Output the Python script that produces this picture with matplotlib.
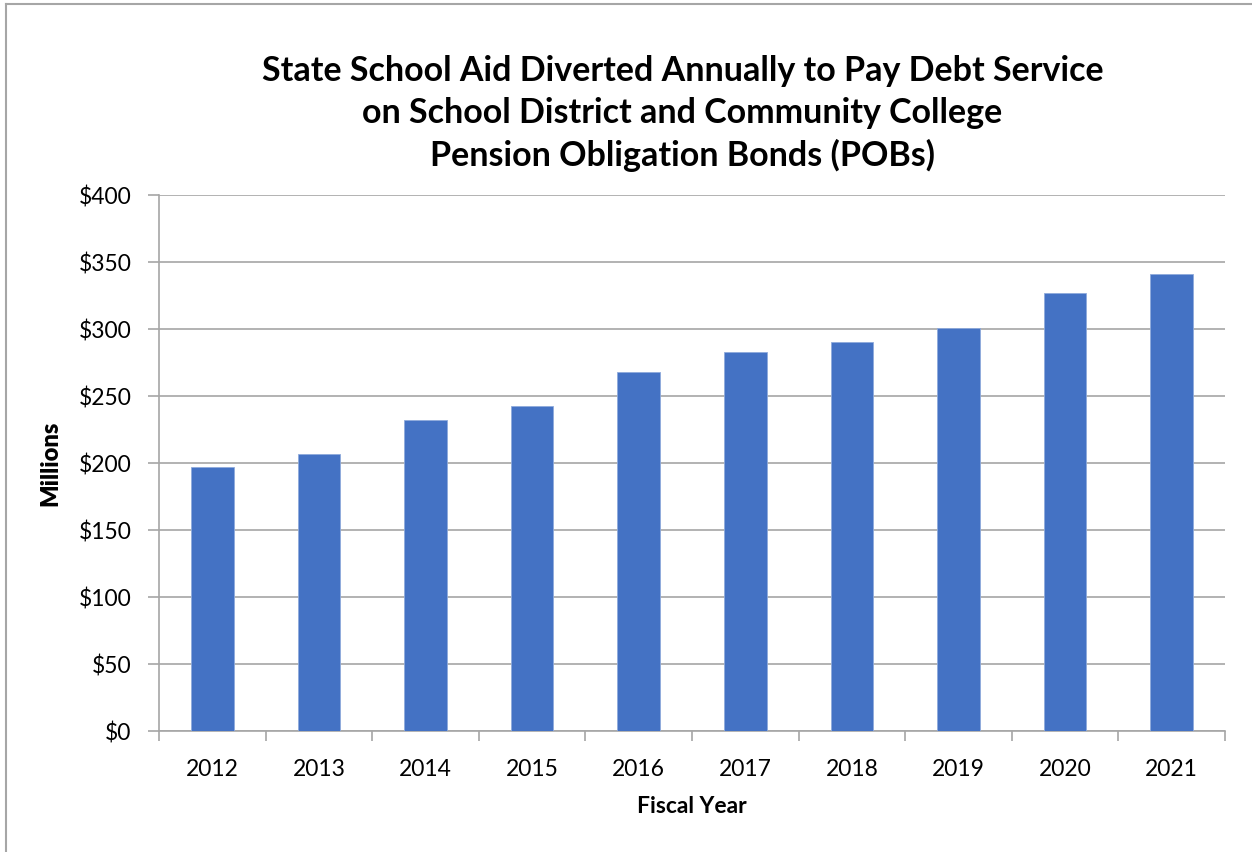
import numpy as np
import matplotlib
matplotlib.use('Agg')
import matplotlib.pyplot as plt
from matplotlib.ticker import FuncFormatter, FixedLocator, NullFormatter

years = ['2012', '2013', '2014', '2015', '2016', '2017', '2018', '2019', '2020', '2021']
diverted = [197, 207, 232, 242.5, 268, 283, 290, 300.5, 327, 341]

title = ('State School Aid Diverted Annually to Pay Debt Service\n'
         'on School District and Community College\n'
         'Pension Obligation Bonds (POBs)')

plt.rcParams['font.family'] = ['Lato', 'DejaVu Sans']

fig = plt.figure(figsize=(12.52, 8.52), dpi=100)
ax = fig.add_axes([0.127, 0.142, 0.8514, 0.629])

x = np.arange(len(years))
ax.bar(x, diverted, width=0.4, color='#4472C4', edgecolor='#8FAADC', linewidth=0.6, zorder=3)

ax.set_xlim(-0.5, len(years) - 0.5)
ax.set_ylim(0, 400)
ax.set_yticks(np.arange(0, 401, 50))
ax.yaxis.set_major_formatter(FuncFormatter(lambda v, p: '${:.0f}'.format(v)))
ax.grid(axis='y', color='#A6A6A6', linewidth=1.2, zorder=0)

ax.set_xticks(x)
ax.set_xticklabels(years)
ax.tick_params(axis='x', which='major', length=0, labelsize=16.5, pad=20)
ax.xaxis.set_minor_locator(FixedLocator(np.arange(-0.5, len(years), 1)))
ax.xaxis.set_minor_formatter(NullFormatter())
ax.tick_params(axis='x', which='minor', length=7, color='#A6A6A6', width=1.2)
ax.tick_params(axis='y', length=8, color='#A6A6A6', width=1.2, labelsize=16.5, pad=12)

for s in ['top', 'right']:
    ax.spines[s].set_visible(False)
for s in ['left', 'bottom']:
    ax.spines[s].set_color('#A6A6A6')
    ax.spines[s].set_linewidth(1.2)

ax.set_xlabel('Fiscal Year', fontsize=16.5, fontweight='bold', labelpad=12)
ax.set_ylabel('Millions', fontsize=17, fontweight='heavy', labelpad=12)

fig.text(0.545, 0.867, title, ha='center', va='center', fontsize=24.5, fontweight='bold',
         linespacing=1.38)

# outer chart border (left and top visible)
fig.add_artist(plt.Line2D([0.005, 0.005], [0, 0.995], color='#A6A6A6', linewidth=1.5))
fig.add_artist(plt.Line2D([0.005, 1.0], [0.995, 0.995], color='#A6A6A6', linewidth=1.5))

fig.savefig('out.png', dpi=100)
